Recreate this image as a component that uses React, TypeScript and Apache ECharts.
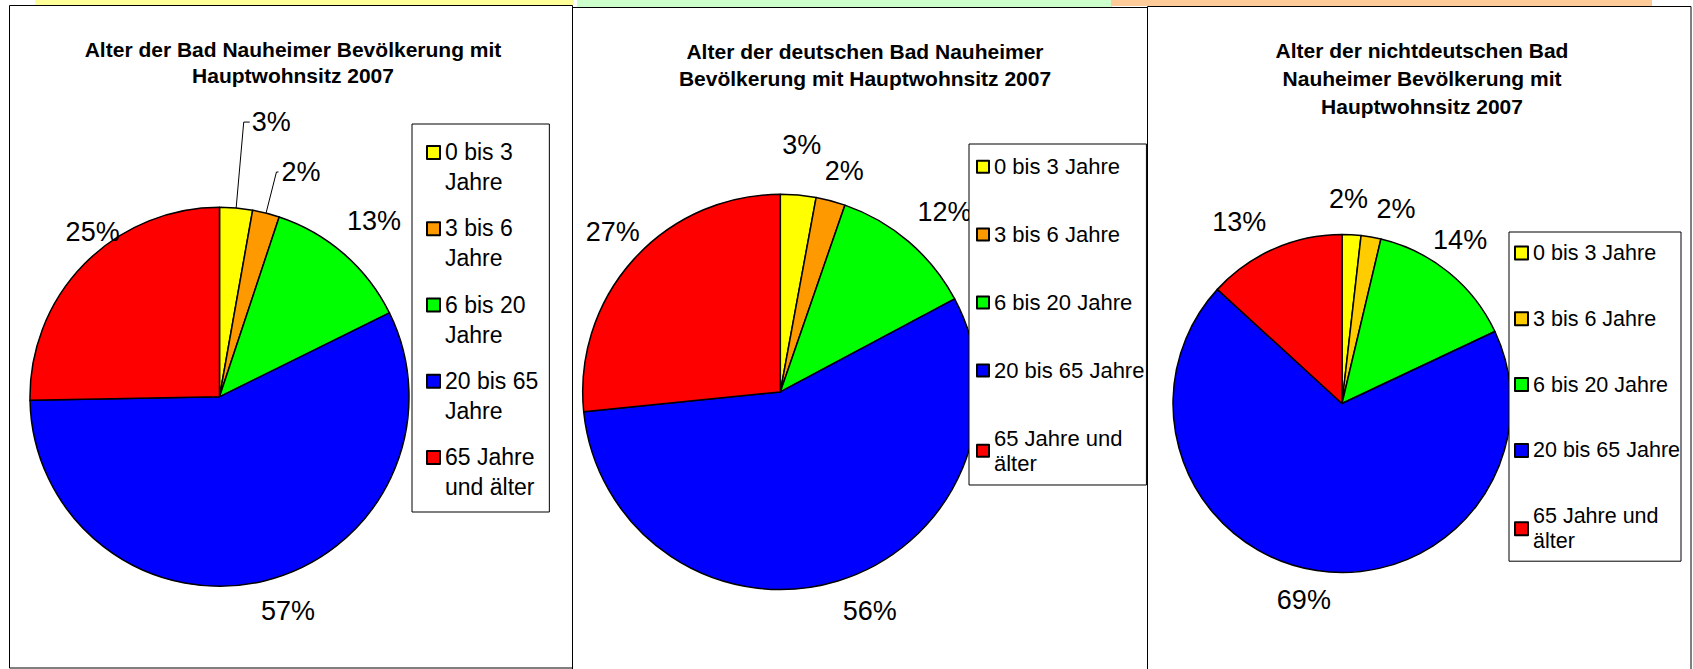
import React, { useEffect, useRef } from 'react';
import * as echarts from 'echarts';

// ---------- data ----------
const categories = ['0 bis 3 Jahre', '3 bis 6 Jahre', '6 bis 20 Jahre', '20 bis 65 Jahre', '65 Jahre und älter'];
const shareTotal = [2.8, 2.3, 12.6, 57.0, 25.3];
const shareGerman = [2.9, 2.4, 11.9, 56.2, 26.6];
const shareNonGerman = [1.8, 1.9, 14.3, 68.8, 13.2];

const titleTotal = 'Alter der Bad Nauheimer Bevölkerung mit\nHauptwohnsitz 2007';
const titleGerman = 'Alter der deutschen Bad Nauheimer\nBevölkerung mit Hauptwohnsitz 2007';
const titleNonGerman = 'Alter der nichtdeutschen Bad\nNauheimer Bevölkerung mit\nHauptwohnsitz 2007';

const colorsMain = ['#FFFF00', '#FF9900', '#00FF00', '#0000FF', '#FF0000'];
const colorsNonGerman = ['#FFFF00', '#FFCC00', '#00FF00', '#0000FF', '#FF0000'];

// ---------- label placement tuning: [lineLength, lineLength2, showLine, distance] ----------
const tuneTotal: [number, number, boolean, number][] = [
  [86.3, 6, true, 2],
  [42.4, 2, true, 3],
  [43.6, -30.6, false, 5],
  [31, -15.7, false, 5],
  [45.8, -73.1, false, 5],
];
const tuneGerman: [number, number, boolean, number][] = [
  [50.3, -25.5, false, 5],
  [31.2, -18.9, false, 5],
  [39.5, -21.8, false, 5],
  [31.5, -9.3, false, 5],
  [40.9, -41.3, false, 5],
];
const tuneNonGerman: [number, number, boolean, number][] = [
  [36, -29.5, false, 5],
  [28.8, -4.5, false, 5],
  [41.6, -46.6, false, 5],
  [30.1, -23.8, false, 5],
  [29.8, -9.3, false, 5],
];

const FONT = '"Liberation Sans", Arial, Helvetica, sans-serif';

function makePie(values: number[], colors: string[], center: [number, number], radius: number, tune: [number, number, boolean, number][]) {
  return {
    type: 'pie',
    center,
    radius,
    startAngle: 90,
    clockwise: true,
    avoidLabelOverlap: false,
    silent: true,
    emphasis: { disabled: true },
    itemStyle: { borderColor: '#000', borderWidth: 1.5 },
    label: {
      show: true,
      position: 'outside',
      color: '#000',
      fontSize: 27,
      fontFamily: FONT,
      formatter: (p: any) => Math.round(p.value) + '%',
    },
    labelLine: { lineStyle: { color: '#000', width: 1 } },
    data: categories.map((name, i) => ({
      name,
      value: values[i],
      itemStyle: { color: colors[i] },
      label: { distanceToLabelLine: tune[i][3] },
      labelLine: { show: tune[i][2], length: tune[i][0], length2: tune[i][1] },
    })),
  };
}

// narrow legend: every label on two lines; wide legends: only the last one
const wrapNarrow = (name: string) => name.replace(/ (Jahre|und älter)$/, '\n$1');
const wrapWide = (name: string) => name.replace(' und älter', ' und\nälter');

export default function App() {
  const ref = useRef<HTMLDivElement>(null);
  useEffect(() => {
    if (!ref.current) return;
    const chart = echarts.init(ref.current, undefined, { renderer: 'svg' });
    const legendBase = {
      orient: 'vertical',
      selectedMode: false,
      backgroundColor: '#fff',
      borderColor: '#000',
      borderWidth: 1,
      borderRadius: 0,
      itemStyle: { borderColor: '#000', borderWidth: 2 },
    };
    chart.setOption({
      animation: false,
      backgroundColor: '#fff',
      graphic: {
        elements: [
          { type: 'rect', z: -1, silent: true, shape: { x: 35, y: 0, width: 539, height: 5 }, style: { fill: '#FFFF99' } },
          { type: 'rect', z: -1, silent: true, shape: { x: 577, y: 0, width: 535, height: 7 }, style: { fill: '#CCFFCC' } },
          { type: 'rect', z: -1, silent: true, shape: { x: 1111, y: 0, width: 541, height: 6 }, style: { fill: '#FFCC99' } },
          { type: 'rect', z: -1, silent: true, shape: { x: 9.5, y: 5.5, width: 563, height: 662.5 }, style: { fill: '#fff', stroke: '#000', lineWidth: 1 } },
          { type: 'rect', z: -1, silent: true, shape: { x: 572.5, y: 7.5, width: 575, height: 680 }, style: { fill: '#fff', stroke: '#000', lineWidth: 1 } },
          { type: 'rect', z: -1, silent: true, shape: { x: 1147.5, y: 6.5, width: 543.5, height: 680 }, style: { fill: '#fff', stroke: '#000', lineWidth: 1 } },
        ],
      },
      title: [
        { text: titleTotal, left: 293, top: 36.7, textAlign: 'center', padding: 0, textStyle: { fontSize: 21, fontWeight: 'bold', lineHeight: 26, color: '#000', fontFamily: FONT } },
        { text: titleGerman, left: 865, top: 38.3, textAlign: 'center', padding: 0, textStyle: { fontSize: 21, fontWeight: 'bold', lineHeight: 27, color: '#000', fontFamily: FONT } },
        { text: titleNonGerman, left: 1422, top: 36.2, textAlign: 'center', padding: 0, textStyle: { fontSize: 21, fontWeight: 'bold', lineHeight: 28, color: '#000', fontFamily: FONT } },
      ],
      legend: [
        {
          ...legendBase,
          left: 412,
          top: 124,
          padding: [13, 11, 10, 14],
          itemGap: 16.25,
          itemWidth: 13,
          itemHeight: 42,
          icon: 'path://M0,0H13V13H0Z M0,42H0.01',
          data: categories,
          formatter: wrapNarrow,
          textStyle: { fontSize: 23, lineHeight: 30, color: '#000', fontFamily: FONT },
        },
        {
          ...legendBase,
          left: 969,
          top: 144,
          padding: [10.2, 2, 9.2, 7],
          itemGap: 42.9,
          itemWidth: 12,
          itemHeight: 12,
          icon: 'rect',
          data: categories,
          formatter: wrapWide,
          textStyle: { fontSize: 22, lineHeight: 25, color: '#000', fontFamily: FONT },
        },
        {
          ...legendBase,
          left: 1509,
          top: 232,
          padding: [8.5, 1, 7.5, 5],
          itemGap: 40.8,
          itemWidth: 13,
          itemHeight: 13,
          icon: 'rect',
          data: categories.map((name, i) => ({ name, itemStyle: { color: colorsNonGerman[i] } })),
          formatter: wrapWide,
          textStyle: { fontSize: 21.5, lineHeight: 25, color: '#000', fontFamily: FONT },
        },
      ],
      series: [
        makePie(shareTotal, colorsMain, [219.5, 396.8], 189.5, tuneTotal),
        makePie(shareGerman, colorsMain, [780.3, 391.9], 197.6, tuneGerman),
        makePie(shareNonGerman, colorsNonGerman, [1342, 403.5], 169, tuneNonGerman),
      ],
    });
    return () => chart.dispose();
  }, []);
  return (
    <div
      ref={ref}
      style={{ position: 'fixed', left: 0, top: 0, width: 1693, height: 669, background: '#fff' }}
    />
  );
}
